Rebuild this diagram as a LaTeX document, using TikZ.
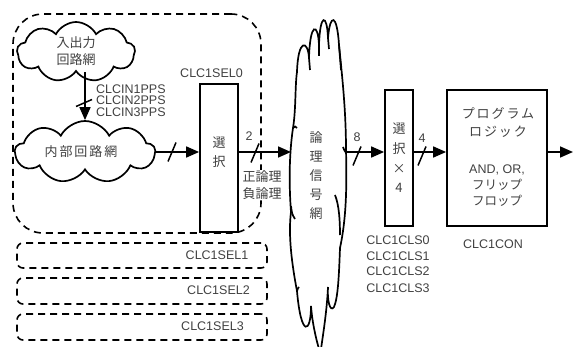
\documentclass[tikz,border=0pt]{standalone}
\usepackage{fontspec}
\setmainfont{Liberation Sans}
\newfontfamily\jp{Noto Sans CJK JP}
\newfontfamily\jpw[LetterSpace=15]{Noto Sans CJK JP}
\usetikzlibrary{shapes.symbols,arrows.meta,calc}
\definecolor{txtc}{HTML}{404040}
\tikzset{
  lat/.style={text=txtc,font=\fontsize{12.5}{11.5}\selectfont,inner sep=0pt},
  jpn/.style={text=txtc,font=\jp\fontsize{13}{17}\selectfont,inner sep=0pt},
  blk/.style={draw,line width=1.8pt,inner sep=0pt},
  cl/.style={draw,line width=1.7pt,cloud,cloud puffs=9,cloud puff arc=125,aspect=2,inner sep=0pt},
  grp/.style={draw,line width=1.6pt,dash pattern=on 7pt off 5pt,inner sep=0pt},
  arr/.style={line width=1.7pt,-{Triangle[length=13pt,width=11pt]}},
  busmark/.pic={\draw[line width=1.5pt] (-4,9.5) -- (4,-9.5);},
  busmarkv/.pic={\draw[line width=1.5pt] (-8,3.5) -- (8,-3.5);}
}
\begin{document}
\begin{tikzpicture}[x=1pt,y=-1pt]
\useasboundingbox (0,0) rectangle (573,347);
% groups
\node[grp,rounded corners=30pt,minimum width=248pt,minimum height=219pt] (g0) at (137,123.5) {};
\node[grp,rounded corners=6pt,minimum width=250pt,minimum height=25pt] (g1) at (142,255.5) {};
\node[grp,rounded corners=6pt,minimum width=250pt,minimum height=26pt] (g2) at (142,291) {};
\node[grp,rounded corners=6pt,minimum width=250pt,minimum height=26pt] (g3) at (142,327) {};
\node[lat] (t1) at (217,255) {CLC1SEL1};
\node[lat] (t2) at (218.5,290) {CLC1SEL2};
\node[lat] (t3) at (212.5,326) {CLC1SEL3};
% clouds
\node[cl,minimum width=118pt,minimum height=60pt] (c1) at (76,52) {};
\node[jpn,align=center] (c1t) at (76,51) {入出力\\回路網};
\node[cl,minimum width=140pt,minimum height=62pt] (c2) at (85,152) {};
\node[text=txtc,font=\jpw\fontsize{13}{17}\selectfont,inner sep=0pt] (c2t) at (81,152) {内部回路網};
% io arrow
\draw[arr] (c2.north |- c1.south) -- (c2.north);
\pic at (84,103) {busmarkv};
\node[lat,align=left,anchor=west] (pps) at (96,100.5) {CLCIN1PPS\\CLCIN2PPS\\CLCIN3PPS};
% select box
\node[blk,minimum width=38pt,minimum height=148pt] (sel) at (219,158) {};
\node[jpn,align=center,font=\jp\fontsize{13}{19}\selectfont] (selt) at (219,152.5) {選\\択};
\node[lat] (sel0) at (211.5,73) {CLC1SEL0};
\draw[arr] (c2.east) -- (c2.east -| sel.west);
\pic at (172,152) {busmark};
% logic signal network cloud
\coordinate (L3) at (291,152);
\coordinate (R3) at (346,152);
\begin{scope}[line width=1.7pt]
\draw (319,349) .. controls (315,335) and (312,320) .. (311,306)
  .. controls (311,334) and (301,338) .. (297,291)
  .. controls (292,265) and (288,235) .. (291,212)
  .. controls (289,185) and (289,155) .. (293,128)
  .. controls (296,110) and (295,85) .. (297,72)
  .. controls (298,38) and (308,40) .. (309,58)
  .. controls (310,22) and (318,22) .. (319,45)
  .. controls (320,13) and (327,13) .. (328,38)
  .. controls (330,13) and (337,13) .. (339,45)
  .. controls (342,75) and (346,110) .. (346,150)
  .. controls (347,190) and (346,220) .. (340,248)
  .. controls (339,275) and (338,298) .. (334,307)
  .. controls (330,313) and (327,300) .. (328,287)
  .. controls (327,310) and (323,335) .. (321,349);
\draw (309,58) -- (310,70);
\draw (319,45) -- (319,56);
\draw (328,38) -- (329,49);
\draw (339,45) .. controls (340,58) .. (341,70);
\draw (297,128) .. controls (295,126) .. (293,128);
\draw (291,206) .. controls (292,214) .. (295,219);
\draw (335,195) .. controls (339,205) and (340,220) .. (340,235);
\draw (346,150) .. controls (345,152) .. (343,147);
\draw (297,291) .. controls (298,288) .. (299,287);
\end{scope}
\node[jpn,align=center,font=\jp\fontsize{13}{19}\selectfont] (c3t) at (316,176) {論\\理\\信\\号\\網};
% arrow 2
\draw[arr] (sel.east |- L3) -- (L3);
\pic at (255,153) {busmark};
\node[lat] (n2) at (249,136) {2};
\node[jpn,align=center,fill=white,inner sep=1pt] (pol) at (262,185) {正論理\\負論理};
% select x4
\node[blk,minimum width=28pt,minimum height=136pt,jpn,align=center,font=\jp\fontsize{13}{19.7}\selectfont,draw=black] (sel4) at (399,158) {選\\択\\×\\4};
\draw[arr] (R3) -- (R3 -| sel4.west);
\pic at (357,156) {busmark};
\node[lat] (n8) at (357,137) {8};
\node[lat,align=center] (cls) at (398,264) {CLC1CLS0\\[4pt]CLC1CLS1\\[4pt]CLC1CLS2\\[5pt]CLC1CLS3};
% program logic
\node[blk,minimum width=100pt,minimum height=136pt] (pl) at (497,158) {};
\node[text=txtc,font=\jpw\fontsize{13}{18}\selectfont,inner sep=0pt,align=center] (plt1) at (498,123) {プログラム\\ロジック};
\node[text=txtc,font=\fontsize{12.5}{16}\selectfont,inner sep=0pt,align=center] (plt2) at (497,186) {AND, OR,\\{\jp フリップ}\\{\jp フロップ}};
\node[lat] (con) at (493,244) {CLC1CON};
\draw[arr] (sel4.east |- R3) -- (R3 -| pl.west);
\pic at (422,156) {busmark};
\node[lat] (n4) at (422,138) {4};
\coordinate (out) at (573,152);
\draw[arr] (pl.east |- out) -- (out);
\end{tikzpicture}
\end{document}
